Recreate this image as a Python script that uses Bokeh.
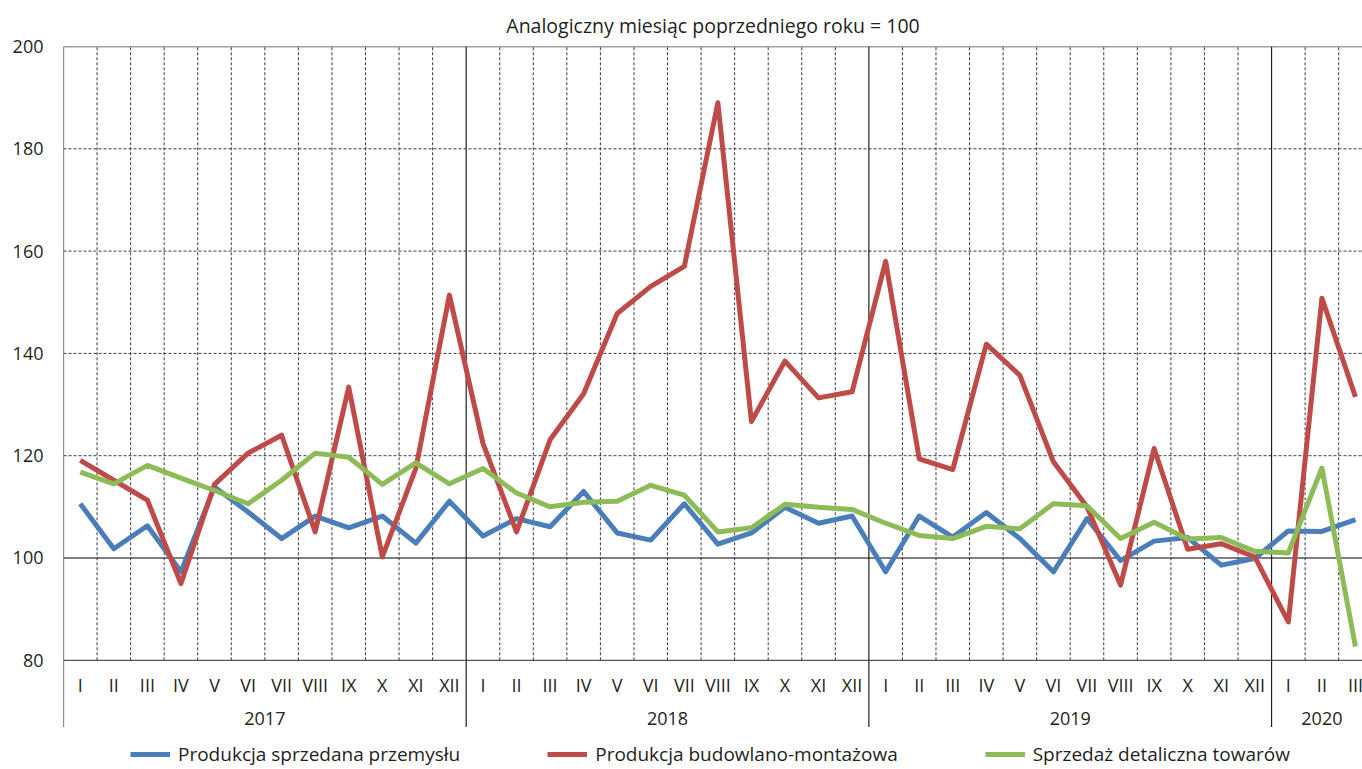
from bokeh.plotting import figure
from bokeh.models import (ColumnDataSource, Range1d, FixedTicker, Legend, LegendItem)
from bokeh.core.properties import value
from bokeh.embed import file_html
from bokeh.resources import INLINE

# ---- data ----
month_labels = ["I", "II", "III", "IV", "V", "VI", "VII", "VIII", "IX", "X", "XI", "XII"] * 3 + ["I", "II", "III"]
years = ["2017", "2018", "2019", "2020"]
months_per_year = [12, 12, 12, 3]

przemysl = [110.6, 101.8, 106.3, 97.3, 113.9, 109.0, 103.8, 108.2, 105.9, 108.2, 102.9, 111.1,
            104.3, 107.7, 106.1, 113.0, 104.9, 103.5, 110.6, 102.7, 104.9, 109.9, 106.8, 108.2,
            97.3, 108.2, 104.1, 108.9, 103.8, 97.3, 107.7, 99.5, 103.3, 104.0, 98.6, 99.9,
            105.3, 105.2, 107.5]
budowlana = [119.1, 115.2, 111.3, 95.0, 114.4, 120.5, 124.0, 105.1, 133.4, 100.2, 117.5, 151.4,
             122.4, 105.1, 123.1, 132.1, 147.8, 153.1, 157.0, 189.0, 126.7, 138.5, 131.3, 132.5,
             158.0, 119.4, 117.3, 141.8, 135.7, 118.8, 110.0, 94.7, 121.4, 101.7, 102.8, 100.2,
             87.5, 150.8, 131.5]
sprzedaz = [116.8, 114.5, 118.1, 115.6, 113.2, 110.6, 115.2, 120.5, 119.7, 114.4, 118.6, 114.5,
            117.5, 112.7, 110.0, 110.9, 111.1, 114.2, 112.3, 105.1, 105.9, 110.5, 109.9, 109.5,
            106.8, 104.4, 103.8, 106.2, 105.7, 110.6, 110.2, 103.8, 107.0, 103.7, 104.0, 101.3,
            101.0, 117.6, 82.7]

series_names = ["Produkcja sprzedana przemysłu", "Produkcja budowlano-montażowa", "Sprzedaż detaliczna towarów"]
series_colors = ["#4A7EBB", "#BE4B48", "#8CBB57"]
y_ticks = [80, 100, 120, 140, 160, 180, 200]
title_text = "Analogiczny miesiąc poprzedniego roku = 100"

FONT = "Open Sans"
TXT = "#231F20"
n = len(month_labels)
xs = [i + 0.5 for i in range(n)]

AXIS_BOTTOM = 66.96   # where the category separators end
Y_MIN, Y_MAX = 58.65, 200
p = figure(frame_width=1299, frame_height=723, output_backend="svg", toolbar_location=None,
           x_range=Range1d(0, 38.71), y_range=Range1d(Y_MIN, Y_MAX),
           x_axis_location=None, min_border_left=63, min_border_right=0,
           min_border_top=46, min_border_bottom=0)
p.outline_line_color = None
p.xgrid.visible = False
p.ygrid.visible = False
p.background_fill_color = "white"
p.border_fill_color = "white"

p.title.text = title_text
p.title.align = "center"
p.title.text_font = FONT
p.title.text_font_size = "19.5px"
p.title.text_font_style = "normal"
p.title.text_color = TXT
p.title.standoff = 16
p.title.offset = 5

ax = p.yaxis[0]
ax.ticker = FixedTicker(ticks=y_ticks)
ax.major_tick_in = 0
ax.major_tick_out = 0
ax.minor_tick_in = 0
ax.minor_tick_out = 0
ax.major_label_standoff = 20
ax.major_label_text_font = FONT
ax.major_label_text_font_size = "18px"
ax.major_label_text_color = TXT
ax.axis_line_color = None

# horizontal grid
dashed_y = [t for t in y_ticks if t not in (80, 100, 200)]
p.segment(x0=[0] * len(dashed_y), x1=[n] * len(dashed_y), y0=dashed_y, y1=dashed_y,
          line_color="#3a3a3a", line_width=1, line_dash="3 2")
p.segment(x0=[0, 0], x1=[n, n], y0=[80, 100], y1=[80, 100], line_color="#555555", line_width=1.3)
p.segment(x0=[0], x1=[n], y0=[200], y1=[200], line_color="#444444", line_width=1.3)

# vertical grid
bounds = [0]
acc = 0
for m in months_per_year:
    acc += m
    bounds.append(acc)
month_bounds = [b for b in range(1, n) if b not in bounds]
p.segment(x0=month_bounds, x1=month_bounds, y0=[80] * len(month_bounds), y1=[200] * len(month_bounds),
          line_color="#3a3a3a", line_width=1, line_dash="3 2")
year_bounds = [b for b in bounds if b < n]
p.segment(x0=year_bounds, x1=year_bounds, y0=[AXIS_BOTTOM] * len(year_bounds), y1=[200] * len(year_bounds),
          line_color=TXT, line_width=1.2)

# month & year labels
p.text(x=xs, y=[75.1] * n, text=month_labels, text_align="center", text_baseline="middle",
       text_font=value(FONT), text_font_size="18px", text_color=TXT)
year_x = []
start = 0
for m in months_per_year:
    year_x.append(start + m / 2)
    start += m
p.text(x=year_x, y=[68.7] * len(years), text=years, text_align="center", text_baseline="middle",
       text_font=value(FONT), text_font_size="18px", text_color=TXT)

# series
renderers = []
for vals, col in zip([przemysl, budowlana, sprzedaz], series_colors):
    src = ColumnDataSource(dict(x=xs, y=vals))
    r = p.line("x", "y", source=src, line_color=col, line_width=5, line_join="round")
    renderers.append(r)

legend = Legend(items=[LegendItem(label=nm, renderers=[r]) for nm, r in zip(series_names, renderers)],
                orientation="horizontal", location=(67, 2))
legend.label_text_font = FONT
legend.label_text_font_size = "19px"
legend.label_text_color = TXT
legend.glyph_width = 40
legend.glyph_height = 16
legend.label_height = 16
legend.label_standoff = 8
legend.spacing = 87
legend.padding = 0
legend.margin = 0
legend.border_line_color = None
legend.background_fill_alpha = 0
p.add_layout(legend, "center")

open("out.html", "w").write(file_html(p, INLINE))
